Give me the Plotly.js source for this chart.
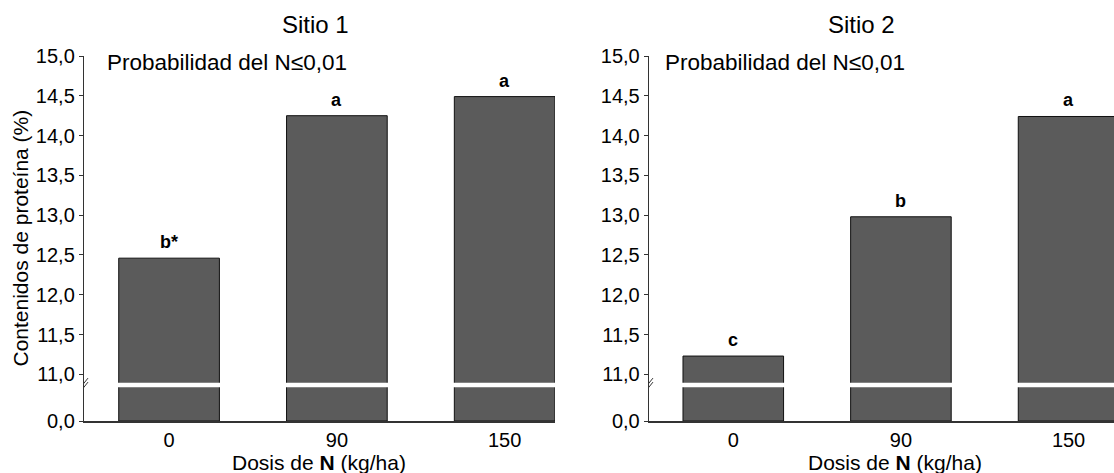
<!DOCTYPE html>
<html>
<head>
<meta charset="utf-8">
<script src="https://cdn.plot.ly/plotly-3.0.1.min.js"></script>
<style>html,body{margin:0;padding:0;background:#fff;}#chart{width:1114px;height:473px;}</style>
</head>
<body>
<div id="chart"></div>
<script>
// ---- data ----
const categories = ["0", "90", "150"];
const site1Values = [12.46, 14.25, 14.49];
const site2Values = [11.23, 12.98, 14.24];
const site1Letters = ["b*", "a", "a"];
const site2Letters = ["c", "b", "a"];
const panelTitles = ["Sitio 1", "Sitio 2"];
const probText = "Probabilidad del N≤0,01";
const yTickValues = [11.0, 11.5, 12.0, 12.5, 13.0, 13.5, 14.0, 14.5, 15.0];
const yTickLabels = ["11,0", "11,5", "12,0", "12,5", "13,0", "13,5", "14,0", "14,5", "15,0"];
const zeroLabel = "0,0";
const xTitle = "Dosis de <b>N</b> (kg/ha)";
const yTitle = "Contenidos de proteína (%)";

// ---- layout helpers ----
const FONT = "Arial, 'Liberation Sans', Helvetica, sans-serif";
const yBottom = 10.414;   // axis position where the broken axis shows 0,0
const yTop = 15.0;
const breakVal = 10.865;
const barColor = "#5b5b5b";
const xIdx = categories.map((c, i) => i);

function barTrace(vals, xa, ya) {
  return {
    type: "bar", x: xIdx, y: vals.map(v => v - yBottom), base: yBottom,
    xaxis: xa, yaxis: ya, width: 0.6,
    marker: {color: barColor, line: {color: "#111", width: 1}},
    hoverinfo: "skip", showlegend: false
  };
}

const traces = [barTrace(site1Values, "x", "y"), barTrace(site2Values, "x2", "y2")];

function yAxis(anchor) {
  return {
    anchor: anchor, domain: [0, 1], range: [yBottom, yTop], fixedrange: true,
    tickvals: [yBottom].concat(yTickValues), ticktext: [zeroLabel].concat(yTickLabels),
    ticks: "outside", ticklen: 4, tickcolor: "#333", tickwidth: 1,
    showline: true, linecolor: "#333", linewidth: 1.2, showgrid: false, zeroline: false,
    tickfont: {family: FONT, size: 20, color: "#000"}
  };
}
function xAxis(anchor, domain, range) {
  return {
    anchor: anchor, domain: domain, range: range, fixedrange: true,
    tickvals: xIdx, ticktext: categories, ticks: "",
    showline: true, linecolor: "#333", linewidth: 1.5, showgrid: false, zeroline: false,
    tickfont: {family: FONT, size: 20, color: "#000"}
  };
}

const annotations = [];
const shapes = [];
const panels = [
  {xa: "x", ya: "y", vals: site1Values, letters: site1Letters, left: -0.507, right: 2.3, titleX: 0.2243, probX: 0.0204, xTitleX: 0.2286},
  {xa: "x2", ya: "y2", vals: site2Values, letters: site2Letters, left: -0.503, right: 2.271, titleX: 0.7553, probX: 0.5621, xTitleX: 0.787}
];
panels.forEach((p, k) => {
  p.vals.forEach((v, i) => {
    annotations.push({xref: p.xa, yref: p.ya, x: i, y: v, text: p.letters[i], showarrow: false,
      yanchor: "bottom", yshift: 4, font: {family: FONT, size: 18, color: "#000", weight: "bold"}});
  });
  annotations.push({xref: "paper", yref: "paper", x: p.titleX, y: 1.085, text: panelTitles[k], showarrow: false,
    xanchor: "center", yanchor: "middle", font: {family: FONT, size: 24, color: "#000"}});
  annotations.push({xref: "paper", yref: "paper", x: p.probX, y: 0.981, text: probText, showarrow: false,
    xanchor: "left", yanchor: "middle", font: {family: FONT, size: 22.5, color: "#000"}});
  annotations.push({xref: "paper", yref: "paper", x: p.xTitleX, y: -0.115, text: xTitle, showarrow: false,
    xanchor: "center", yanchor: "middle", font: {family: FONT, size: 21, color: "#000"}});
  // white break band across bars
  shapes.push({type: "line", xref: p.xa, yref: p.ya, x0: p.left + 0.03, x1: p.right + 0.5, y0: breakVal, y1: breakVal,
    line: {color: "#ffffff", width: 4.5}, layer: "above"});
  // axis break marks //
  [0, 4].forEach(off => {
    shapes.push({type: "line", xref: p.xa, yref: p.ya, xsizemode: "pixel", ysizemode: "pixel",
      xanchor: p.left, yanchor: breakVal, x0: -4, x1: 4, y0: -5 - off + 2, y1: 5 - off + 2,
      line: {color: "#333", width: 1}, layer: "above"});
  });
});
annotations.push({xref: "paper", yref: "paper", x: -0.0621, y: 0.5, text: yTitle, showarrow: false, textangle: -90,
  xanchor: "center", yanchor: "middle", font: {family: FONT, size: 21, color: "#000"}});

const layout = {
  width: 1114, height: 473,
  margin: {l: 84, r: 0, t: 56, b: 52, pad: 0},
  paper_bgcolor: "#fff", plot_bgcolor: "#fff",
  showlegend: false,
  xaxis: xAxis("y", [0, 0.4573], [panels[0].left, panels[0].right]),
  xaxis2: xAxis("y2", [0.5485, 1], [panels[1].left, panels[1].right]),
  yaxis: yAxis("x"),
  yaxis2: yAxis("x2"),
  annotations: annotations,
  shapes: shapes
};

Plotly.newPlot("chart", traces, layout, {staticPlot: true, displayModeBar: false});
</script>
</body>
</html>
